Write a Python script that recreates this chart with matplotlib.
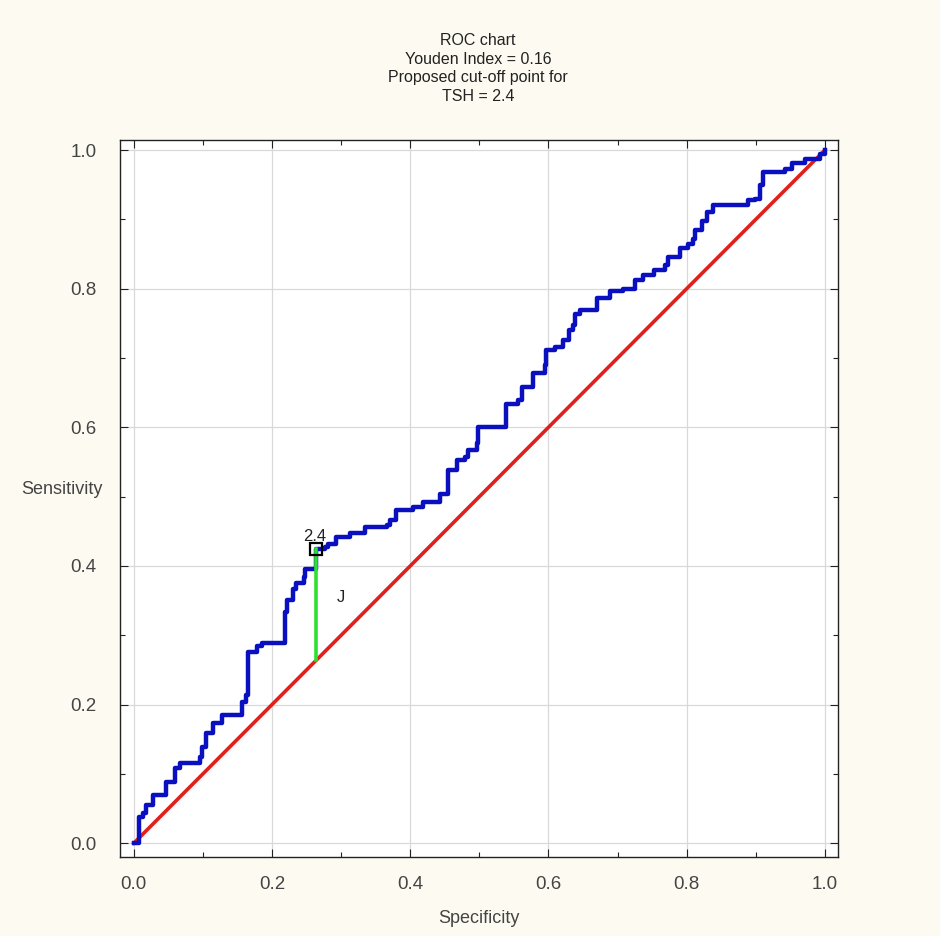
import numpy as np
import matplotlib.pyplot as plt
from matplotlib.ticker import MultipleLocator

plt.rcParams["font.family"] = ["Liberation Sans", "DejaVu Sans"]

# ROC curve (1 - specificity on x, sensitivity on y)
spec = [0.0, 0.0, 0.008, 0.013, 0.017, 0.027, 0.046, 0.046, 0.059, 0.059, 0.067, 0.088,
        0.096, 0.099, 0.105, 0.114, 0.124, 0.128, 0.151, 0.156, 0.163, 0.165, 0.178,
        0.185, 0.214, 0.218, 0.219, 0.222, 0.230, 0.235, 0.246, 0.247, 0.259, 0.264,
        0.276, 0.281, 0.293, 0.310, 0.3125, 0.332, 0.334, 0.366, 0.370, 0.380, 0.399,
        0.404, 0.419, 0.440, 0.443, 0.455, 0.467, 0.479, 0.484, 0.496, 0.498, 0.539,
        0.539, 0.556, 0.561, 0.573, 0.578, 0.595, 0.597, 0.609, 0.621, 0.629, 0.636,
        0.638, 0.645, 0.662, 0.670, 0.689, 0.701, 0.708, 0.720, 0.725, 0.737, 0.752,
        0.768, 0.773, 0.788, 0.790, 0.802, 0.809, 0.812, 0.822, 0.830, 0.838, 0.884,
        0.889, 0.899, 0.906, 0.911, 0.942, 0.952, 0.971, 0.993, 1.0]
sens = [0.0, 0.0, 0.038, 0.043, 0.055, 0.069, 0.069, 0.088, 0.088, 0.108, 0.115, 0.115,
        0.125, 0.139, 0.159, 0.173, 0.173, 0.185, 0.185, 0.204, 0.214, 0.276, 0.284,
        0.289, 0.289, 0.298, 0.334, 0.351, 0.366, 0.375, 0.384, 0.396, 0.396, 0.425,
        0.428, 0.432, 0.442, 0.442, 0.447, 0.447, 0.456, 0.459, 0.466, 0.480, 0.480,
        0.485, 0.4925, 0.4925, 0.504, 0.538, 0.553, 0.557, 0.567, 0.577, 0.601, 0.601,
        0.634, 0.639, 0.658, 0.658, 0.678, 0.690, 0.711, 0.716, 0.726, 0.740, 0.747,
        0.764, 0.769, 0.769, 0.786, 0.796, 0.796, 0.800, 0.800, 0.812, 0.820, 0.827,
        0.834, 0.846, 0.846, 0.858, 0.865, 0.872, 0.885, 0.897, 0.911, 0.921, 0.921,
        0.928, 0.930, 0.949, 0.969, 0.972, 0.981, 0.987, 0.994, 1.0]
cut_x, cut_y = 0.264, 0.425
cut_label = "2.4"
title = "ROC chart\nYouden Index = 0.16\nProposed cut-off point for\nTSH = 2.4"

BG = "#fdfbf1"
fig = plt.figure(figsize=(9.4, 9.36), dpi=100, facecolor=BG)
ax = fig.add_axes([0.1277, 0.0844, 0.7638, 0.766])
ax.set_facecolor("white")

ax.plot([0, 1], [0, 1], color="#e0201c", lw=2.6, zorder=3)
ax.plot(spec, sens, color="#0a10c0", lw=3.2, drawstyle="steps-post", zorder=4)
ax.plot([cut_x, cut_x], [cut_x, cut_y], color="#2ee02e", lw=2.6, zorder=5)
ax.plot(cut_x, cut_y, marker="s", ms=8, mfc="none", mec="black", mew=1.6, zorder=6)
ax.text(cut_x - 0.002, cut_y + 0.006, cut_label, ha="center", va="bottom", fontsize=12, color="#222")
ax.text(0.30, 0.355, "J", ha="center", va="center", fontsize=12, color="#222")

ax.set_xlim(-0.02, 1.019)
ax.set_ylim(-0.02, 1.0145)
for a in (ax.xaxis, ax.yaxis):
    a.set_major_locator(MultipleLocator(0.2))
    a.set_minor_locator(MultipleLocator(0.1))
ax.xaxis.set_major_formatter(lambda v, p: f"{v:.1f}")
ax.yaxis.set_major_formatter(lambda v, p: f"{v:.1f}")
ax.tick_params(which="both", direction="in", top=True, right=True, colors="#222",
               labelcolor="#444", labelsize=13.5, width=0.8)
ax.tick_params(which="major", length=6)
ax.tick_params(which="minor", length=3.5)
ax.tick_params(axis="x", pad=14)
ax.tick_params(axis="y", pad=17)
ax.grid(True, which="major", color="#d9d9d9", lw=0.9)
ax.set_axisbelow(True)
for s in ax.spines.values():
    s.set_color("#222")
    s.set_linewidth(1.0)

ax.set_xlabel("Specificity", fontsize=13, color="#444", labelpad=12)
fig.text(62 / 940, 1 - 490 / 936, "Sensitivity", ha="center", va="center", fontsize=13, color="#444")
fig.text(478 / 940, 1 - 33 / 936, title, ha="center", va="top", fontsize=11.5, color="#222",
         linespacing=1.3)

fig.savefig("out.png", dpi=100, facecolor=BG)
